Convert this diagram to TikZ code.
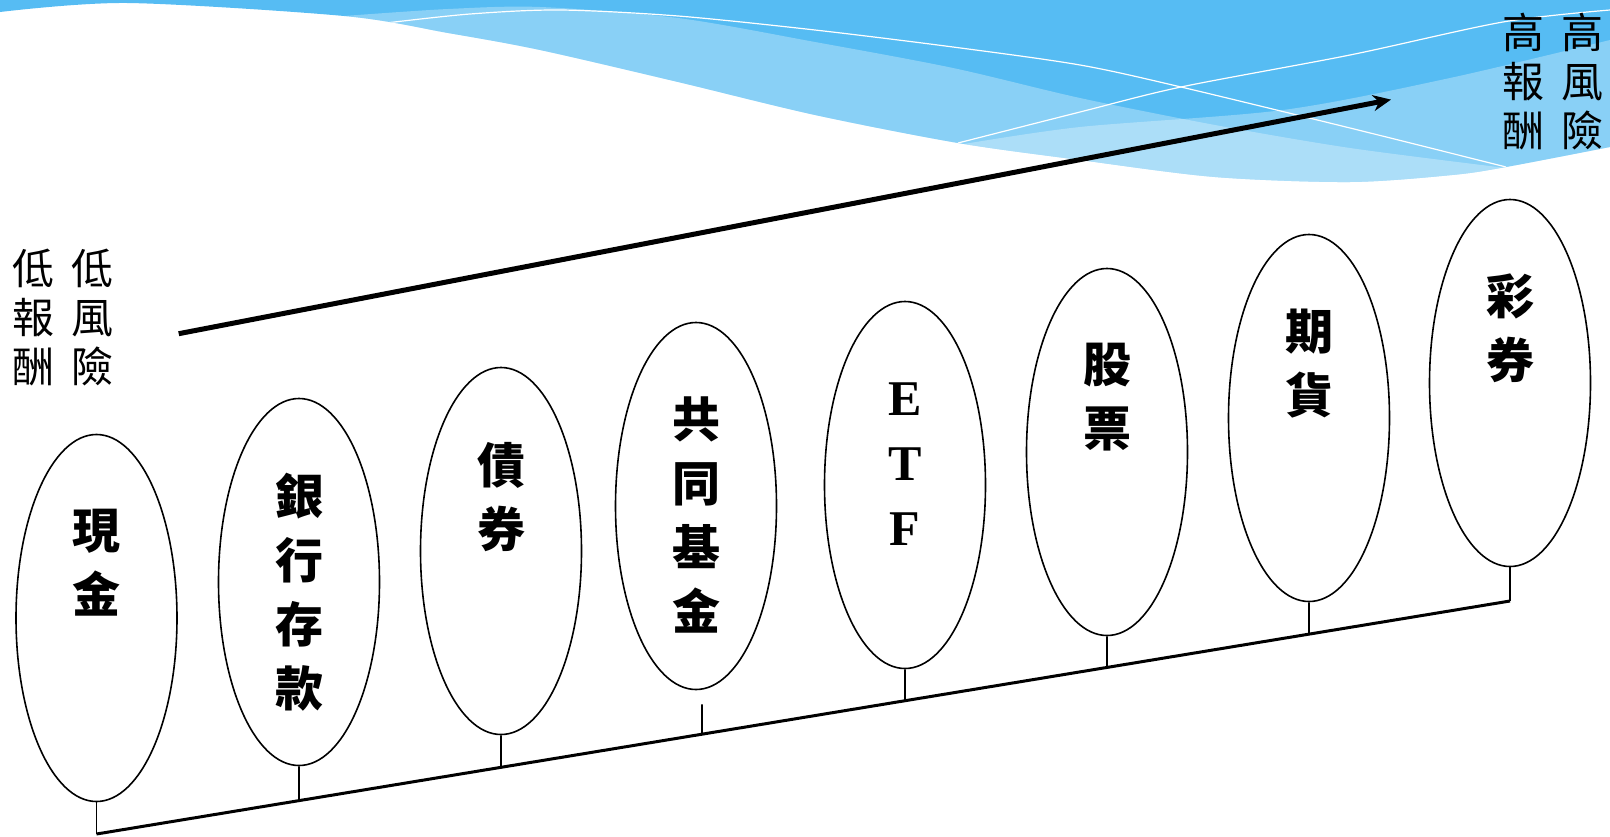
\documentclass[tikz,border=0pt]{standalone}
\usepackage{fontspec}
\setmainfont{Liberation Serif}
\newfontfamily\cjk{Noto Sans CJK TC}
\usetikzlibrary{positioning,arrows.meta,calc,shapes.geometric}

\definecolor{wavedark}{RGB}{86,188,243}

\begin{document}
\begin{tikzpicture}[
    x=1bp, y=-1bp,
    fund/.style={ellipse, draw, line width=1.6bp, minimum width=161bp, minimum height=367bp, inner sep=0pt},
    fundlbl/.style={align=center, inner sep=0pt, font=\cjk\bfseries\fontsize{48bp}{64bp}\selectfont},
    riskcol/.style={align=center, inner sep=0pt, font=\cjk\fontsize{42bp}{49bp}\selectfont},
    arrow/.style={-{Stealth[length=18bp,width=16bp]}, line width=5bp},
    stem/.style={line width=1.6bp},
    floorline/.style={line width=3bp},
    wave/.style={white, opacity=0.3},
    waveline/.style={white, line width=1.2bp}
]
\useasboundingbox (0,0) rectangle (1610,836);

% Background waves
\begin{scope}
  \clip plot[smooth] coordinates {(0,12) (127,3) (344,16) (448,33) (540,50) (678,82) (815,115) (958,143) (1080,160) (1215,177) (1350,182) (1452,175) (1506,167) (1610,147)} -- (1610,0) -- (0,0) -- cycle;
  \fill[wavedark] (0,0) rectangle (1610,220);
  \fill[wave] plot[smooth] coordinates {(344,16) (448,9) (540,7) (678,18) (815,42) (953,68) (1080,98) (1215,125) (1350,148) (1506,168)} -- (1506,260) -- (344,260) -- cycle;
  \fill[wave] plot[smooth] coordinates {(958,145) (1080,127) (1283,110) (1450,78) (1610,40)} -- (1610,260) -- (958,260) -- cycle;
  \draw[waveline] plot[smooth] coordinates {(386,23) (470,14) (560,10) (678,16) (815,30) (953,47) (1080,65) (1181,87) (1350,128) (1506,167)};
  \draw[waveline] plot[smooth] coordinates {(958,143) (1080,112) (1181,87) (1350,55) (1503,22) (1610,10)};
\end{scope}

% Floor line under the ellipses
\coordinate (floorL) at (96.5,834);
\coordinate (floorR) at (1510,601);

% Ellipses and the feet of their stems
\foreach \n/\cx/\cy in {cash/96.5/618, deposit/299/582, bond/501/551, mutual/696/506,
                        etf/905/485, stock/1107/452, future/1309/418, lottery/1510/383} {
  \node[fund] (\n) at (\cx,\cy) {};
  \coordinate (\n-foot) at ($(floorL)!{(\cx-96.5)/1413.5}!(floorR)$);
}
% this stem sits a little right of its ellipse
\coordinate (mutual-top) at ($(mutual.south)+(6,14)$);
\coordinate (mutual-foot) at ($(floorL)!{(702-96.5)/1413.5}!(floorR)$);

% Labels
\node[fundlbl, below=75bp of cash.north] (cashlbl) {現\\金};
\node[fundlbl, below=75bp of deposit.north] (depositlbl) {銀\\行\\存\\款};
\node[fundlbl, below=75bp of bond.north] (bondlbl) {債\\券};
\node[fundlbl, below=75bp of mutual.north] (mutuallbl) {共\\同\\基\\金};
\node[fundlbl, font=\bfseries\fontsize{50bp}{65bp}\selectfont, below=82bp of etf.north] (etflbl) {E\\T\\F};
\node[fundlbl, below=75bp of stock.north] (stocklbl) {股\\票};
\node[fundlbl, below=75bp of future.north] (futurelbl) {期\\貨};
\node[fundlbl, below=75bp of lottery.north] (lotterylbl) {彩\\券};

% Stems
\foreach \n in {cash, deposit, bond, etf, stock, future, lottery}
  \draw[stem] (\n.south) -- (\n-foot);
\draw[stem] (mutual-top) -- (mutual-foot);
\draw[floorline] (floorL) -- (floorR);

% Risk / return ends
\node[riskcol] (lowret) at (33,317) {低\\報\\酬};
\node[riskcol] (lowrisk) at (92,317) {低\\風\\險};
\node[riskcol] (highret) at (1523,82) {高\\報\\酬};
\node[riskcol] (highrisk) at (1582,82) {高\\風\\險};

\coordinate (riskstart) at (178.7,333.7);
\coordinate (riskend) at (1391,99.6);
\draw[arrow] (riskstart) -- (riskend);

\end{tikzpicture}
\end{document}
